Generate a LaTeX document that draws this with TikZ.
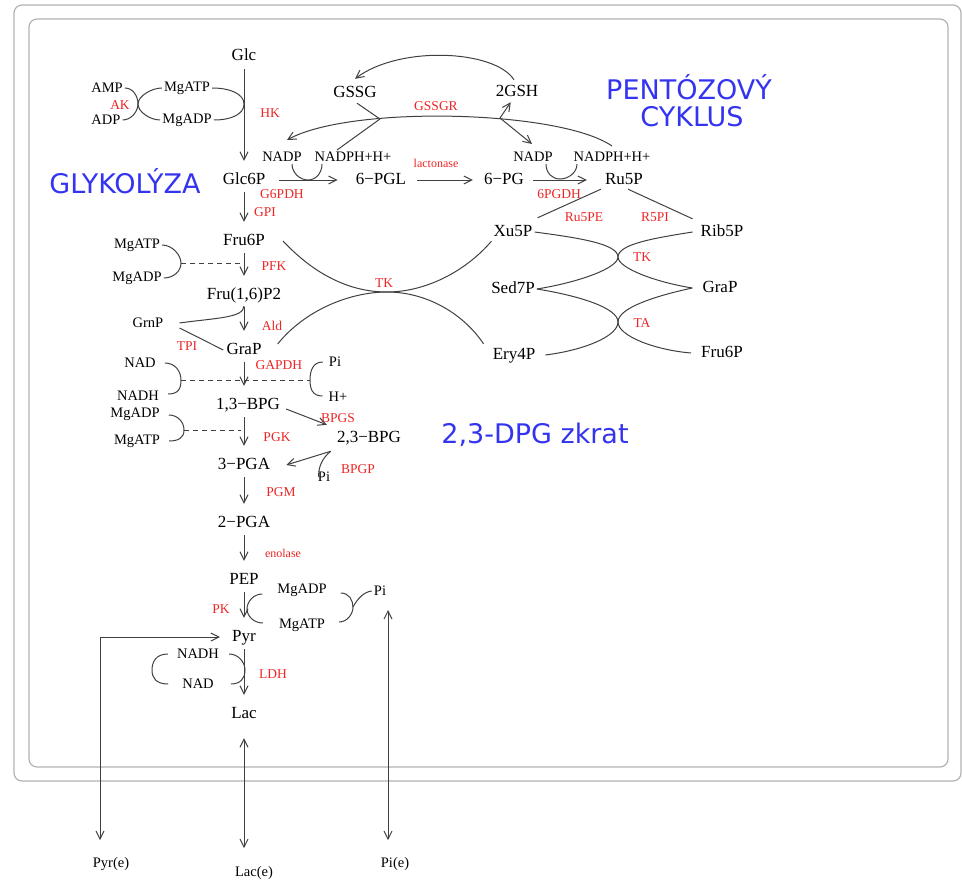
\documentclass[tikz,border=0pt]{standalone}
\usepackage{fontspec}
\setmainfont{Liberation Serif}
\newfontfamily\bannerfont{DejaVu Sans}
\usetikzlibrary{arrows.meta}

\definecolor{enzred}{RGB}{238,36,36}
\definecolor{bannerblue}{RGB}{52,52,240}
\definecolor{panelgray}{RGB}{178,178,178}

\tikzset{
  met/.style={inner sep=2pt, font=\fontsize{17}{17}\selectfont, text height=11pt, text depth=3pt},
  cof/.style={inner sep=2pt, font=\fontsize{14.5}{14.5}\selectfont},
  enz/.style={inner sep=1pt, text=enzred, font=\fontsize{13.5}{13.5}\selectfont},
  tinyenz/.style={inner sep=1pt, text=enzred, font=\fontsize{12}{12}\selectfont},
  banner/.style={text=bannerblue, font=\bannerfont\fontsize{27}{27}\selectfont},
  ln/.style={draw=black!75, line width=1pt},
  rx/.style={ln, ->},
  rxx/.style={ln, <->},
  stepdown/.style={rx, shorten <=3pt, shorten >=10pt},
  dashline/.style={ln, dash pattern=on 5pt off 4pt},
  panel/.style={draw=panelgray, line width=1.2pt, rounded corners=8pt}
}

\begin{document}
\begin{tikzpicture}[x=1pt,y=-1pt,>={Straight Barb[length=8pt,width=8pt]}]
\useasboundingbox (0,0) rectangle (962,883);
\draw[panel] (14,5) rectangle (961,781);
\draw[panel] (29,19) rectangle (948,767);

\node[banner] (glyk) at (125,181) {GLYKOLÝZA};
\node[banner] (pent) at (689,87) {PENTÓZOVÝ};
\node[banner] (cyk) at (692,117) {CYKLUS};
\node[banner] (dpg) at (535,435) {2,3-DPG zkrat};

\node[met] (glc) at (244,57) {Glc};
\node[met] (glcsix) at (244,180) {Glc6P};
\node[met] (frusix) at (244,241) {Fru6P};
\node[met] (frubp) at (244,295) {Fru(1,6)P2};
\node[met] (grap) at (244,350) {GraP};
\node[met] (bpgi) at (248,405) {1,3−BPG};
\node[met] (bpgii) at (369,438) {2,3−BPG};
\node[met] (pgaiii) at (244,465) {3−PGA};
\node[met] (pgaii) at (244,523) {2−PGA};
\node[met] (pep) at (244,580) {PEP};
\node[met] (pyr) at (244,637) {Pyr};
\node[met] (lac) at (244,714) {Lac};
\node[met] (pgl) at (381,180) {6−PGL};
\node[met] (pg) at (504,180) {6−PG};
\node[met] (ruvp) at (624,180) {Ru5P};
\node[met] (gssg) at (355,94) {GSSG};
\node[met] (gsh) at (517,93) {2GSH};
\node[met] (xuvp) at (513,232) {Xu5P};
\node[met] (ribvp) at (722,232) {Rib5P};
\node[met] (sedp) at (513,289) {Sed7P};
\node[met] (graprt) at (720,288) {GraP};
\node[met] (eryp) at (514,355) {Ery4P};
\node[met] (frurt) at (722,353) {Fru6P};

\node[cof] (amp) at (107,88) {AMP};
\node[cof] (adp) at (106,120) {ADP};
\node[cof] (mgatpa) at (187,88) {MgATP};
\node[cof] (mgadpa) at (187,120) {MgADP};
\node[cof] (nadpa) at (282,157) {NADP};
\node[cof] (nadpha) at (353,157) {NADPH+H+};
\node[cof] (nadpb) at (533,157) {NADP};
\node[cof] (nadphb) at (612,157) {NADPH+H+};
\node[cof] (mgatpb) at (137,245) {MgATP};
\node[cof] (mgadpb) at (137,278) {MgADP};
\node[cof] (grnp) at (148,323) {GrnP};
\node[cof] (nad) at (140,363) {NAD};
\node[cof] (nadh) at (138,396) {NADH};
\node[cof] (pia) at (335,362) {Pi};
\node[cof] (hplus) at (338,397) {H+};
\node[cof] (mgadpc) at (135,414) {MgADP};
\node[cof] (mgatpc) at (137,441) {MgATP};
\node[cof] (pib) at (324,477) {Pi};
\node[cof] (mgadpd) at (302,590) {MgADP};
\node[cof] (mgatpd) at (302,625) {MgATP};
\node[cof] (pic) at (380,591) {Pi};
\node[cof] (nadhb) at (198,654) {NADH};
\node[cof] (nadb) at (198,684) {NAD};
\node[cof] (pyre) at (111,864) {Pyr(e)};
\node[cof] (lace) at (254,873) {Lac(e)};
\node[cof] (pie) at (395,864) {Pi(e)};

\node[enz] (ak) at (120,105) {AK};
\node[enz] (hk) at (270,113) {HK};
\node[enz] (gssgr) at (436,106) {GSSGR};
\node[enz] (gpdh) at (282,194) {G6PDH};
\node[tinyenz] (lacton) at (436,163) {lactonase};
\node[enz] (pgdh) at (559,194) {6PGDH};
\node[enz] (gpi) at (265,212) {GPI};
\node[enz] (pfk) at (274,266) {PFK};
\node[enz] (ald) at (272,326) {Ald};
\node[enz] (tpi) at (187,346) {TPI};
\node[enz] (gapdh) at (279,365) {GAPDH};
\node[enz] (bpgs) at (338,418) {BPGS};
\node[enz] (pgk) at (277,437) {PGK};
\node[enz] (bpgp) at (358,469) {BPGP};
\node[enz] (pgm) at (281,492) {PGM};
\node[tinyenz] (enol) at (283,553) {enolase};
\node[enz] (pk) at (221,609) {PK};
\node[enz] (ldh) at (273,674) {LDH};
\node[enz] (ruvpe) at (584,217) {Ru5PE};
\node[enz] (rvpi) at (655,217) {R5PI};
\node[enz] (tka) at (384,283) {TK};
\node[enz] (tkb) at (642,257) {TK};
\node[enz] (ta) at (642,323) {TA};

\coordinate (hkt) at (244,104);
\coordinate (akt) at (138,104);
\coordinate (gvt) at (308,180);
\coordinate (pgt) at (560,179);
\coordinate (gsl) at (380,119);
\coordinate (gsr) at (500,118);
\coordinate (pfkl) at (181,263);
\coordinate (pfkt) at (241,263);
\coordinate (aldt) at (244,306);
\coordinate (gapl) at (181,380);
\coordinate (gapr) at (310,380);
\coordinate (pgkl) at (184,430);
\coordinate (pgkt) at (241,430);
\coordinate (pkt) at (247,609);
\coordinate (pkr) at (353,607);
\coordinate (ldht) at (245,670);
\coordinate (ldhl) at (152,670);
\coordinate (tkl) at (387,292);
\coordinate (tkc) at (618,257);
\coordinate (tac) at (618,322);
\coordinate (bpgpt) at ([xshift=-4pt,yshift=-4pt]bpgii.south west);

\draw[stepdown] (glc) -- (glcsix);
\draw[stepdown] (glcsix) -- (frusix);
\draw[stepdown] (frusix) -- (frubp);
\draw[stepdown] (frubp) -- (grap);
\draw[stepdown] (grap) -- (grap |- bpgi.north);
\draw[stepdown] (bpgi.south -| pgaiii) -- (pgaiii);
\draw[stepdown] (pgaiii) -- (pgaii);
\draw[stepdown] (pgaii) -- (pep);
\draw[stepdown] (pep) -- (pyr);
\draw[stepdown] (pyr) -- (lac);

\draw[rx, shorten <=12pt, shorten >=16pt] (glcsix) -- (pgl);
\draw[rx, shorten <=9pt, shorten >=9pt] (pgl) -- (pg);
\draw[rx, shorten <=7pt, shorten >=16pt] (pg) -- (ruvp);

\draw[ln] (amp.east) .. controls +(8,0) and +(0,-8) .. (akt) .. controls +(0,8) and +(8,0) .. (adp.east);
\draw[ln] (mgatpa.west) .. controls +(-10,0) and +(0,-8) .. (akt) .. controls +(0,8) and +(-10,0) .. (mgadpa.west);
\draw[ln] (mgatpa.east) .. controls +(18,0) and +(0,-10) .. (hkt) .. controls +(0,10) and +(18,0) .. (mgadpa.east);

\draw[ln] ([xshift=10pt]nadpa.south) .. controls +(0,9) and +(-8,0) .. (gvt) .. controls +(8,0) and +(0,9) .. ([xshift=-31pt]nadpha.south);
\draw[ln] ([xshift=13pt]nadpb.south) .. controls +(0,9) and +(-8,0) .. (pgt) .. controls +(8,0) and +(0,9) .. ([xshift=-35pt]nadphb.south);

\draw[rx] ([yshift=4pt]nadphb.north) .. controls (560,110) and (350,105) .. ([xshift=5pt,yshift=10pt]nadpa.north);
\draw[ln] ([xshift=2pt]gssg.south) -- (gsl);
\draw[ln] ([xshift=-16pt]nadpha.north) -- (gsl);
\draw[rx] (gsr) -- (gsh);
\draw[rx] (gsr) -- ([xshift=-1pt,yshift=6pt]nadpb.north);
\draw[rx] ([xshift=-3pt,yshift=4pt]gsh.north) .. controls (495,50) and (400,45) .. ([yshift=6pt]gssg.north);

\draw[ln] ([xshift=-2pt]ruvp.south west) -- ([xshift=3pt,yshift=5pt]xuvp.north east);
\draw[ln] ([xshift=4pt]ruvp.south) -- ([xshift=-6pt,yshift=4pt]ribvp.north west);

\draw[ln] (xuvp.east) .. controls (580,238) and (618,244) .. (tkc) .. controls (618,268) and (580,282) .. (sedp.east);
\draw[ln] ([xshift=-6pt]ribvp.west) .. controls (655,238) and (618,244) .. (tkc) .. controls (618,268) and (655,282) .. ([xshift=-8pt]graprt.west);
\draw[ln] (sedp.east) .. controls (580,296) and (618,308) .. (tac) .. controls (618,336) and (585,350) .. ([xshift=8pt]eryp.east);
\draw[ln] ([xshift=-8pt]graprt.west) .. controls (655,296) and (618,308) .. (tac) .. controls (618,336) and (655,350) .. ([xshift=-8pt]frurt.west);

\draw[ln] ([xshift=16pt]frusix.east) .. controls (315,275) and (350,292) .. (tkl) .. controls (425,292) and (465,272) .. (xuvp.south west);
\draw[ln] ([xshift=14pt,yshift=6pt]grap.east) .. controls (305,310) and (350,292) .. (tkl) .. controls (425,292) and (462,312) .. ([xshift=-7pt,yshift=2pt]eryp.north west);

\draw[ln] ([xshift=14pt]grnp.east) .. controls (215,318) and (244,318) .. (aldt);
\draw[ln] ([xshift=14pt,yshift=-5pt]grnp.east) -- ([xshift=-1pt]grap.west);

\draw[ln] (mgatpb.east) .. controls +(10,0) and +(0,-8) .. (pfkl) .. controls +(0,8) and +(10,0) .. (mgadpb.east);
\draw[dashline] (pfkl) -- (pfkt);

\draw[ln] ([xshift=7pt]nad.east) .. controls +(10,0) and +(0,-9) .. (gapl) .. controls +(0,9) and +(10,0) .. ([xshift=7pt,yshift=2pt]nadh.east);
\draw[ln] ([xshift=-4pt]pia.west) .. controls +(-10,0) and +(0,-9) .. (gapr) .. controls +(0,9) and +(-10,0) .. ([xshift=-4pt,yshift=1pt]hplus.west);
\draw[dashline] (gapl) -- (gapr);

\draw[ln] ([xshift=7pt,yshift=-1pt]mgadpc.east) .. controls +(9,0) and +(0,-8) .. (pgkl) .. controls +(0,8) and +(9,0) .. ([xshift=7pt]mgatpc.east);
\draw[dashline] (pgkl) -- (pgkt);

\draw[rx] ([xshift=4pt,yshift=-4pt]bpgi.east) -- ([xshift=-8pt,yshift=4pt]bpgii.north west);
\draw[rx] (bpgpt) -- ([xshift=14pt]pgaiii.east);
\draw[ln] ([xshift=3pt]pib.west) .. controls (318,468) and (322,458) .. (bpgpt);

\draw[ln] ([xshift=-13pt,yshift=-4pt]mgadpd.west) .. controls +(-9,0) and +(0,-7) .. (pkt) .. controls +(0,7) and +(-9,0) .. ([xshift=-14pt,yshift=2pt]mgatpd.west);
\draw[ln] ([xshift=12pt,yshift=-3pt]mgadpd.east) .. controls +(8,0) and +(0,-7) .. (pkr) .. controls +(0,7) and +(8,0) .. ([xshift=12pt,yshift=3pt]mgatpd.east);
\draw[ln] (pkr) .. controls (358,598) and (364,592) .. (pic.west);

\draw[ln] ([xshift=8pt]nadhb.east) .. controls +(9,0) and +(0,-8) .. (ldht) .. controls +(0,8) and +(10,0) .. ([xshift=15pt]nadb.east);
\draw[ln] ([xshift=-7pt]nadhb.west) .. controls +(-12,0) and +(0,-8) .. (ldhl) .. controls +(0,8) and +(-12,0) .. ([xshift=-12pt]nadb.west);

\draw[rxx] ([xshift=-10pt]pyr.west) -| ([xshift=-11pt,yshift=15pt]pyre.north);
\draw[rxx] ([yshift=-15pt]lac.south) -- ([xshift=-10pt,yshift=16pt]lace.north);
\draw[rxx] ([xshift=8pt,yshift=-12pt]pic.south) -- ([xshift=-7pt,yshift=15pt]pie.north);
\end{tikzpicture}
\end{document}
